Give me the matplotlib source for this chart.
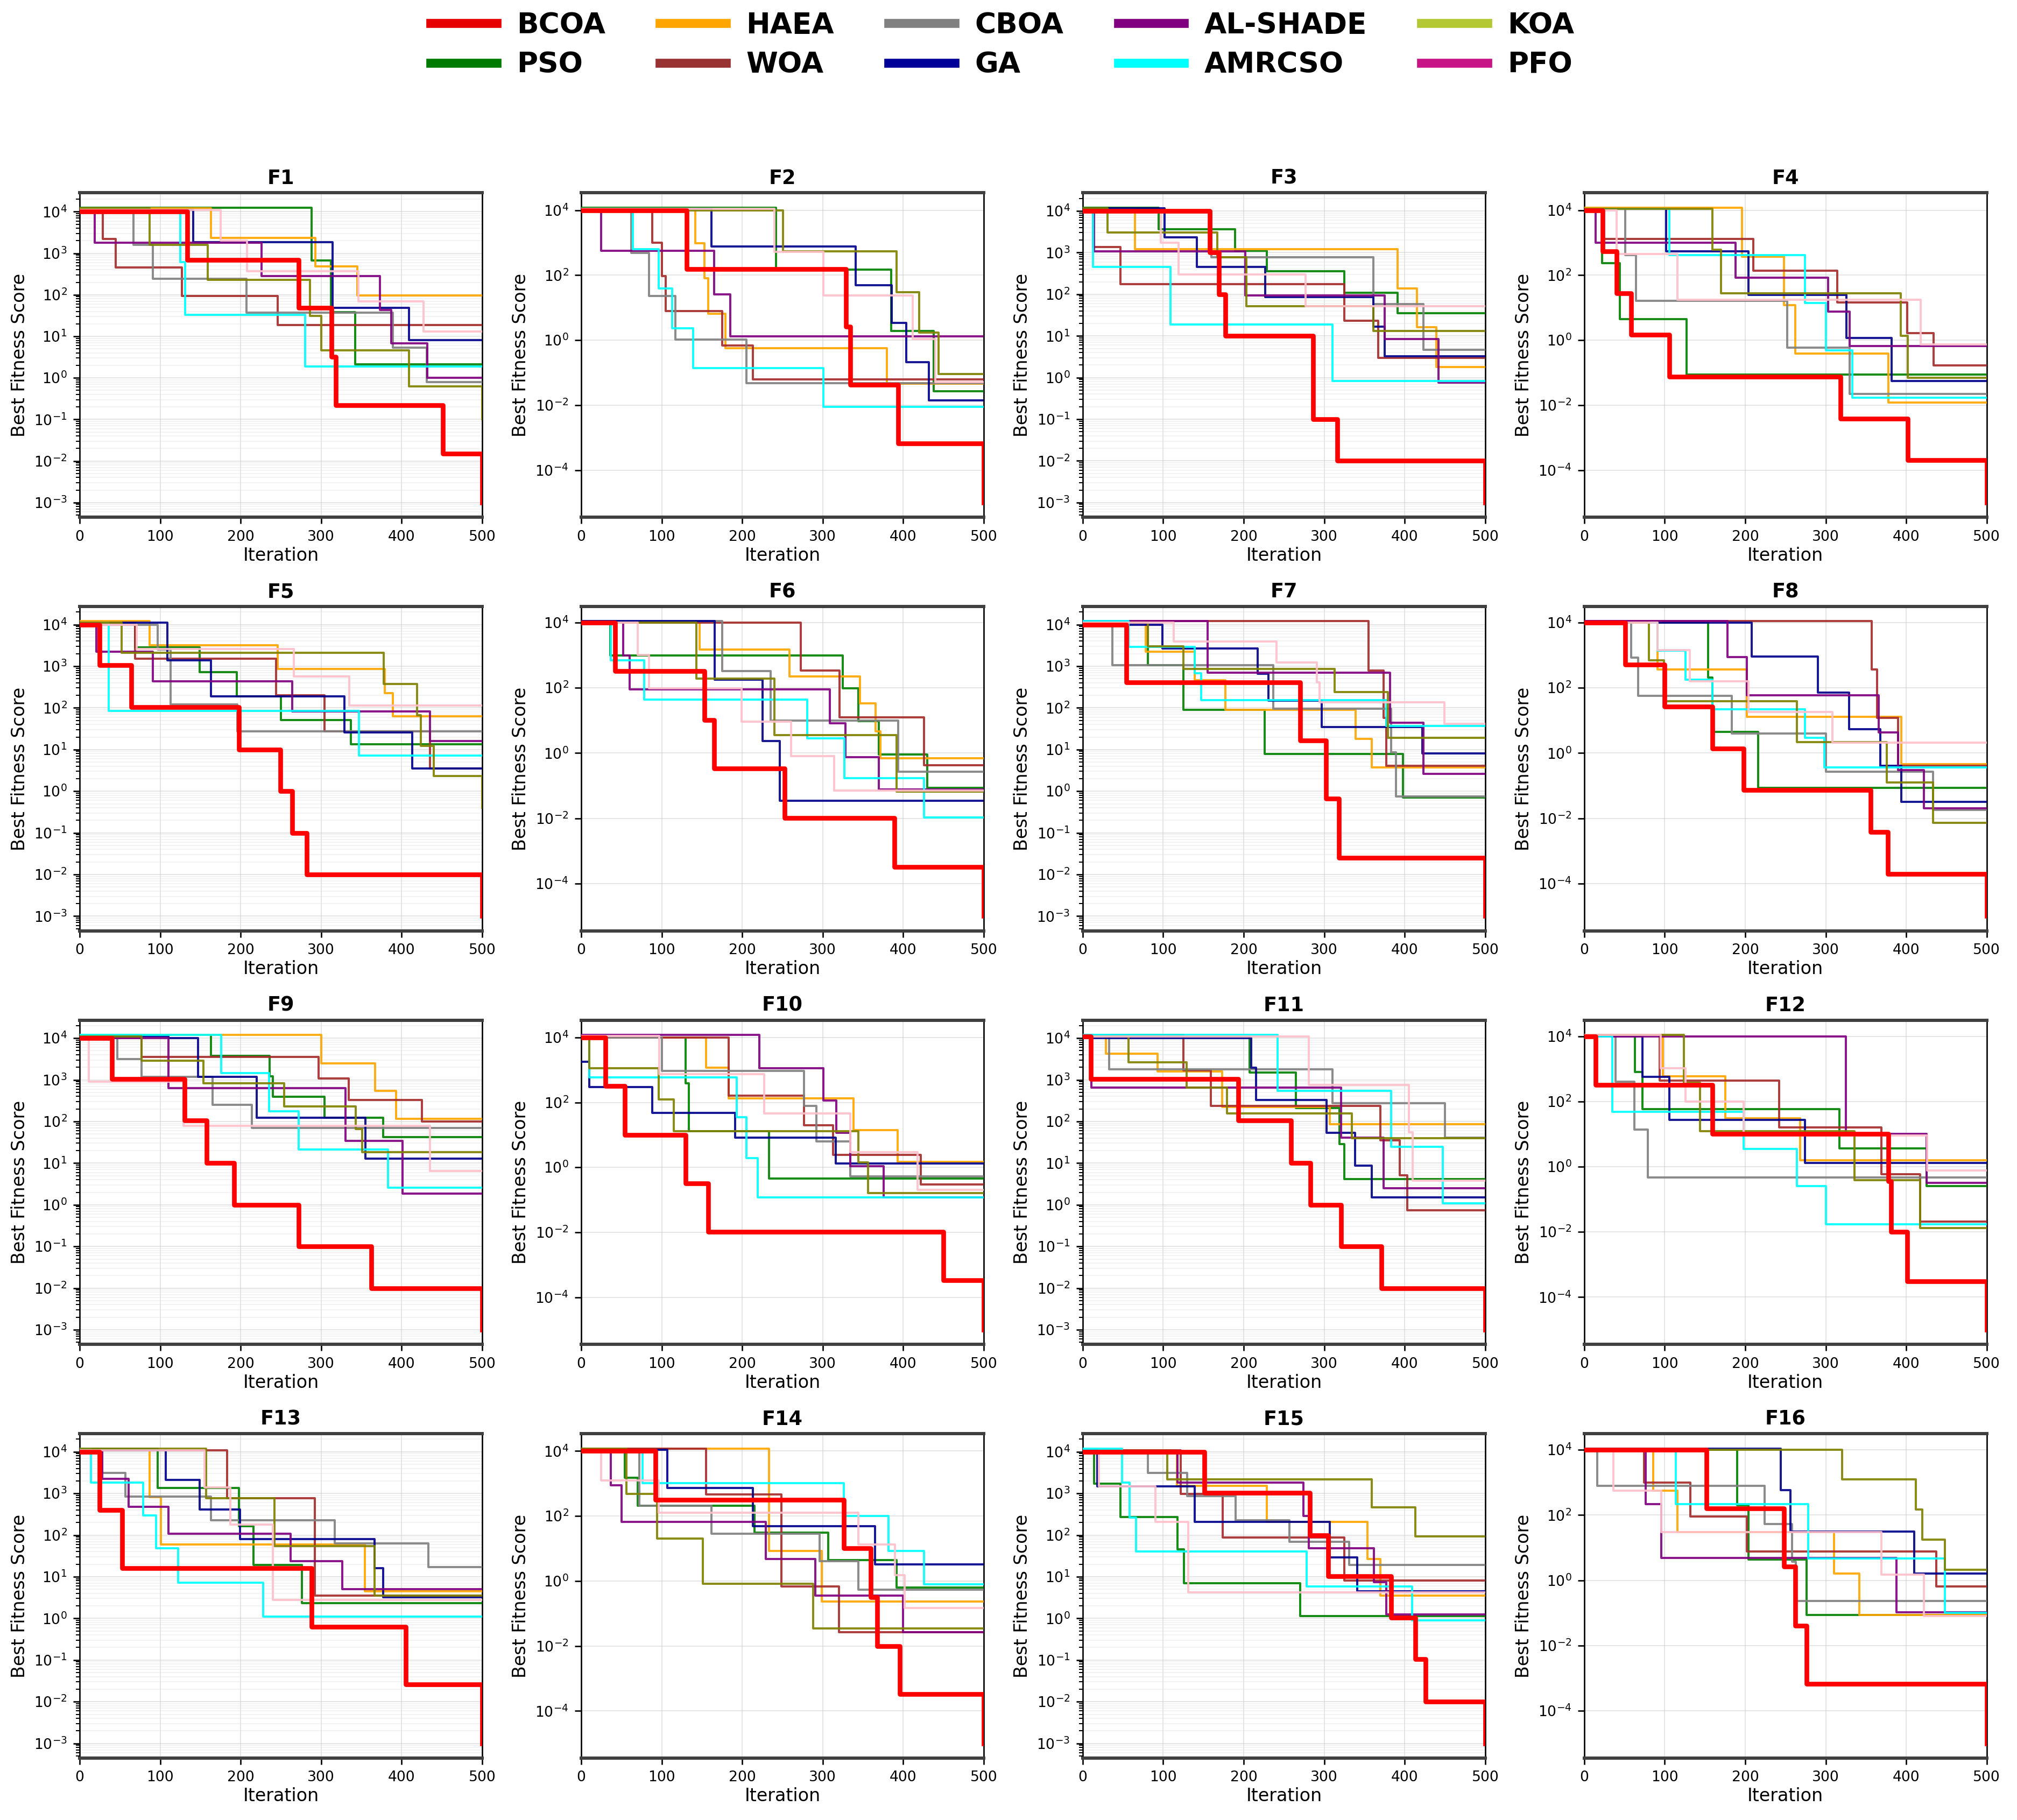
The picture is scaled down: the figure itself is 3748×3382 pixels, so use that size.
import numpy as np
import matplotlib.pyplot as plt
from matplotlib.lines import Line2D

algorithms = ["BCOA", "PSO", "HAEA", "WOA", "CBOA", "GA", "AL-SHADE", "AMRCSO", "KOA", "PFO"]
line_colors = ["red", "green", "orange", "brown", "gray", "darkblue", "purple", "cyan", "olive", "pink"]
legend_colors = ["#e60000", "#007a00", "#ffa500", "#993333", "#808080", "#000099", "#800080", "#00ffff", "#b3c832", "#c71585"]
functions = ["F%d" % i for i in range(1, 17)]
max_iter = 500

# convergence curves: (iteration where the step starts, best fitness from there on)
F1 = {
    "BCOA": [(0, 1e4), (134, 700), (272, 48), (313, 3.2), (318, 0.22), (451, 0.015), (500, 1e-3)],
    "PSO": [(0, 1.25e4), (288, 680), (312, 38), (342, 2.1)],
    "HAEA": [(0, 1.2e4), (163, 2350), (293, 480), (345, 96)],
    "WOA": [(0, 1e4), (29, 2200), (45, 455), (127, 93), (246, 18.7)],
    "CBOA": [(0, 1e4), (67, 1600), (91, 245), (207, 37), (389, 5.4), (431, 0.8)],
    "GA": [(0, 1.1e4), (141, 1860), (314, 49), (409, 8.1)],
    "AL-SHADE": [(0, 1e4), (19, 1800), (226, 280), (373, 43), (387, 6.8), (432, 1.0)],
    "AMRCSO": [(0, 1e4), (125, 620), (131, 33), (280, 1.9)],
    "KOA": [(0, 1.2e4), (87, 1600), (159, 230), (286, 31), (300, 4.6), (409, 0.63), (500, 0.1)],
    "PFO": [(0, 1.1e4), (175, 2000), (208, 365), (346, 69), (427, 13)],
}
F2 = {
    "BCOA": [(0, 1e4), (131, 157), (329, 2.6), (334, 0.042), (394, 6.6e-4), (500, 1e-5)],
    "PSO": [(0, 1.2e4), (242, 150), (385, 1.95), (438, 0.027)],
    "HAEA": [(0, 1.1e4), (142, 980), (153, 82), (158, 6.5), (179, 0.57), (380, 0.046)],
    "WOA": [(0, 1e4), (88, 1000), (100, 93), (105, 7.9), (175, 0.69), (213, 0.063)],
    "CBOA": [(0, 1e4), (62, 480), (84, 23), (117, 1.05), (205, 0.048)],
    "GA": [(0, 1.1e4), (162, 760), (341, 49), (386, 3.4), (404, 0.21), (432, 0.014)],
    "AL-SHADE": [(0, 1e4), (25, 560), (165, 26), (185, 1.3)],
    "AMRCSO": [(0, 1e4), (64, 640), (96, 39), (113, 2.3), (139, 0.14), (301, 0.0089)],
    "KOA": [(0, 1e4), (251, 550), (392, 30), (420, 1.7), (444, 0.09)],
    "PFO": [(0, 1.1e4), (240, 530), (301, 24), (412, 1.1), (440, 0.052)],
}
F3 = {
    "BCOA": [(0, 1e4), (158, 1000), (169, 100), (177, 10), (286, 0.1), (316, 0.01), (500, 1e-3)],
    "PSO": [(0, 1.2e4), (94, 3600), (189, 1120), (229, 360), (325, 110), (391, 35)],
    "HAEA": [(0, 1.1e4), (65, 1200), (391, 140), (415, 16), (439, 1.8)],
    "WOA": [(0, 1e4), (13, 1350), (47, 175), (325, 23), (367, 3.0)],
    "CBOA": [(0, 1e4), (160, 780), (361, 59), (423, 4.6)],
    "GA": [(0, 1.15e4), (102, 2300), (142, 450), (227, 87), (361, 16.6), (375, 3.3)],
    "AL-SHADE": [(0, 1e4), (14, 1080), (202, 95), (375, 8.5), (442, 0.76)],
    "AMRCSO": [(0, 1e4), (13, 450), (109, 19), (310, 0.82)],
    "KOA": [(0, 1.15e4), (31, 3000), (167, 770), (203, 51), (361, 13)],
    "PFO": [(0, 1e4), (97, 1750), (119, 295), (277, 51)],
}
F4 = {
    "BCOA": [(0, 1e4), (23, 540), (40, 28), (58, 1.45), (106, 0.075), (318, 0.0038), (402, 2e-4), (500, 1e-5)],
    "PSO": [(0, 1e4), (22, 234), (44, 4.5), (127, 0.087)],
    "HAEA": [(0, 1.2e4), (196, 370), (248, 12), (262, 0.39), (378, 0.012)],
    "WOA": [(0, 1e4), (22, 1320), (210, 140), (314, 14.5), (401, 1.66), (434, 0.17)],
    "CBOA": [(0, 1.1e4), (51, 410), (64, 16), (252, 0.59), (330, 0.022)],
    "GA": [(0, 1.1e4), (102, 540), (204, 25), (326, 1.16), (382, 0.055)],
    "AL-SHADE": [(0, 1e4), (14, 1000), (188, 85), (303, 7.6), (330, 0.66)],
    "AMRCSO": [(0, 1.1e4), (106, 410), (274, 14), (300, 0.49), (333, 0.017)],
    "KOA": [(0, 1.1e4), (159, 600), (170, 28), (393, 1.38), (402, 0.07)],
    "PFO": [(0, 1e4), (40, 450), (116, 17.5), (418, 0.73)],
}
F5 = {
    "BCOA": [(0, 1e4), (25, 1050), (64, 105), (198, 10), (249, 1.0), (264, 0.1), (282, 0.01), (500, 1e-3)],
    "PSO": [(0, 1.1e4), (69, 2800), (149, 730), (195, 190), (250, 51), (337, 13.5)],
    "HAEA": [(0, 1.2e4), (87, 3200), (246, 850), (379, 225), (389, 62)],
    "WOA": [(0, 1e4), (69, 1500), (244, 200), (304, 27), (435, 3.5)],
    "CBOA": [(0, 1e4), (97, 2500), (113, 120), (196, 27)],
    "GA": [(0, 1.1e4), (109, 1400), (163, 190), (329, 26), (413, 3.5)],
    "AL-SHADE": [(0, 1e4), (21, 2250), (91, 430), (264, 83), (435, 16)],
    "AMRCSO": [(0, 1.1e4), (36, 85), (347, 7.2)],
    "KOA": [(0, 1.1e4), (52, 2100), (378, 380), (419, 67), (424, 12.4), (440, 2.3), (500, 0.4)],
    "PFO": [(0, 1e4), (71, 2600), (266, 560), (335, 115)],
}
F6 = {
    "BCOA": [(0, 1e4), (42, 330), (153, 10.4), (165, 0.34), (253, 0.0102), (389, 3.2e-4), (500, 1e-5)],
    "PSO": [(0, 1e4), (36, 980), (325, 98), (344, 9.5), (370, 0.91), (430, 0.087)],
    "HAEA": [(0, 1e4), (147, 1480), (259, 220), (346, 33), (366, 4.7), (372, 0.69)],
    "WOA": [(0, 1e4), (273, 340), (321, 12.6), (426, 0.43)],
    "CBOA": [(0, 1.1e4), (175, 330), (235, 9.8), (394, 0.27)],
    "GA": [(0, 1.1e4), (166, 175), (225, 2.3), (247, 0.035)],
    "AL-SHADE": [(0, 1e4), (52, 980), (60, 89), (309, 8.3), (328, 0.76), (370, 0.076)],
    "AMRCSO": [(0, 1e4), (37, 700), (78, 44), (281, 2.8), (327, 0.17), (426, 0.0105)],
    "KOA": [(0, 1e4), (143, 190), (240, 3.5), (392, 0.066)],
    "PFO": [(0, 1e4), (70, 1030), (84, 98), (199, 9.1), (261, 0.8), (314, 0.072)],
}
F7 = {
    "BCOA": [(0, 1e4), (54, 410), (270, 16.6), (302, 0.66), (318, 0.025), (500, 1e-3)],
    "PSO": [(0, 1.1e4), (81, 1050), (125, 89), (226, 7.9), (398, 0.71)],
    "HAEA": [(0, 1.1e4), (78, 2240), (139, 460), (177, 91), (339, 18), (359, 3.7)],
    "WOA": [(0, 1.2e4), (355, 800), (374, 58), (377, 4.1)],
    "CBOA": [(0, 1e4), (37, 1070), (237, 95), (383, 8.5), (389, 0.74)],
    "GA": [(0, 1e4), (99, 2700), (217, 650), (231, 148), (297, 35), (422, 8.1)],
    "AL-SHADE": [(0, 1.2e4), (155, 710), (382, 44), (423, 2.6)],
    "AMRCSO": [(0, 1.2e4), (57, 2900), (139, 680), (147, 155), (377, 37)],
    "KOA": [(0, 1.1e4), (81, 3000), (125, 870), (313, 240), (379, 19)],
    "PFO": [(0, 1.1e4), (113, 3900), (241, 1250), (291, 410), (294, 138), (449, 42)],
}
F8 = {
    "BCOA": [(0, 1e4), (51, 520), (100, 27), (159, 1.4), (198, 0.074), (356, 0.0038), (377, 2e-4), (500, 1e-5)],
    "PSO": [(0, 1e4), (154, 210), (159, 4.5), (216, 0.087)],
    "HAEA": [(0, 1e4), (91, 360), (202, 13), (394, 0.45)],
    "WOA": [(0, 1.1e4), (357, 370), (364, 12), (390, 0.41)],
    "CBOA": [(0, 1e4), (58, 830), (67, 57), (183, 4.0), (300, 0.27), (433, 0.018)],
    "GA": [(0, 1e4), (208, 910), (290, 71), (329, 5.4), (368, 0.41), (394, 0.032)],
    "AL-SHADE": [(0, 1.1e4), (178, 870), (202, 59), (366, 4.3), (390, 0.3), (422, 0.02)],
    "AMRCSO": [(0, 1e4), (91, 1390), (126, 175), (159, 22), (274, 2.9), (298, 0.37)],
    "KOA": [(0, 1e4), (80, 690), (99, 39), (264, 2.2), (376, 0.125), (433, 0.0072)],
    "PFO": [(0, 1e4), (91, 1450), (131, 160), (204, 18.5), (308, 2.1)],
}
F9 = {
    "BCOA": [(0, 1e4), (40, 1050), (130, 105), (158, 10), (192, 1.0), (272, 0.1), (362, 0.01), (500, 1e-3)],
    "PSO": [(0, 1.2e4), (163, 3750), (236, 1200), (240, 390), (304, 123), (377, 42)],
    "HAEA": [(0, 1.2e4), (300, 2500), (367, 540), (393, 117)],
    "WOA": [(0, 1e4), (77, 3600), (297, 1080), (334, 325), (425, 100)],
    "CBOA": [(0, 1e4), (47, 3150), (77, 1170), (165, 250), (214, 69)],
    "GA": [(0, 1.1e4), (110, 1e4), (147, 1170), (220, 123), (355, 13)],
    "AL-SHADE": [(0, 1e4), (110, 630), (330, 34), (401, 1.86)],
    "AMRCSO": [(0, 1.2e4), (176, 1450), (235, 175), (272, 21), (383, 2.6)],
    "KOA": [(0, 1.1e4), (77, 2900), (154, 830), (254, 230), (343, 65), (351, 18.6)],
    "PFO": [(0, 1e4), (11, 890), (129, 78), (435, 6.5)],
}
F10 = {
    "BCOA": [(0, 1e4), (30, 315), (54, 9.8), (130, 0.32), (158, 0.0102), (450, 3.3e-4), (500, 1e-5)],
    "PSO": [(0, 1e4), (130, 390), (134, 13), (233, 0.45)],
    "HAEA": [(0, 1e4), (155, 1180), (183, 135), (338, 14), (393, 1.5)],
    "WOA": [(0, 1e4), (183, 160), (277, 20), (313, 2.4), (422, 0.3)],
    "CBOA": [(0, 1e4), (100, 930), (277, 77), (292, 6.2), (334, 0.52)],
    "GA": [(0, 1800), (10, 300), (88, 47), (191, 8.1), (316, 1.3)],
    "AL-SHADE": [(0, 1.2e4), (221, 1120), (301, 115), (317, 11.5), (334, 1.1), (376, 0.12)],
    "AMRCSO": [(0, 1e4), (10, 600), (193, 35), (205, 1.9), (219, 0.12)],
    "KOA": [(0, 1e4), (10, 1120), (96, 123), (115, 13), (344, 1.4), (356, 0.16)],
    "PFO": [(0, 1.1e4), (97, 730), (227, 45), (334, 2.9), (418, 0.2)],
}
F11 = {
    "BCOA": [(0, 1.1e4), (10, 1050), (193, 105), (259, 10), (283, 1.0), (321, 0.1), (371, 0.01), (500, 1e-3)],
    "PSO": [(0, 1.1e4), (207, 1500), (265, 210), (319, 29), (325, 4.1)],
    "HAEA": [(0, 1.1e4), (29, 4200), (93, 1580), (173, 220), (307, 85)],
    "WOA": [(0, 1.2e4), (125, 1670), (159, 240), (370, 35), (394, 5.1), (403, 0.74)],
    "CBOA": [(0, 1.2e4), (33, 1800), (310, 275), (450, 41)],
    "GA": [(0, 1e4), (209, 1950), (215, 325), (303, 53), (338, 8.7), (359, 1.5)],
    "AL-SHADE": [(0, 1e4), (11, 650), (321, 41), (374, 2.5)],
    "AMRCSO": [(0, 1.2e4), (242, 540), (383, 24.5), (447, 1.1)],
    "KOA": [(0, 1.1e4), (57, 2600), (129, 660), (179, 158), (334, 40)],
    "PFO": [(0, 1.1e4), (281, 750), (405, 55), (410, 3.8)],
}
F12 = {
    "BCOA": [(0, 1e4), (14, 320), (159, 10), (378, 0.36), (381, 0.01), (401, 3.1e-4), (500, 1e-5)],
    "PSO": [(0, 1.1e4), (63, 790), (72, 58), (317, 3.7), (425, 0.25)],
    "HAEA": [(0, 1.1e4), (98, 600), (175, 31), (268, 1.6)],
    "WOA": [(0, 1.1e4), (94, 430), (242, 16), (369, 0.59), (417, 0.021)],
    "CBOA": [(0, 1e4), (39, 400), (62, 13.8), (79, 0.47)],
    "GA": [(0, 1e4), (72, 575), (106, 27), (274, 1.3)],
    "AL-SHADE": [(0, 1e4), (325, 10), (425, 0.32)],
    "AMRCSO": [(0, 1e4), (35, 49), (198, 3.5), (264, 0.25), (300, 0.017)],
    "KOA": [(0, 1.1e4), (124, 370), (144, 12.3), (336, 0.39), (417, 0.013)],
    "PFO": [(0, 1.1e4), (95, 1050), (126, 100), (198, 9.1), (426, 0.76)],
}
F13 = {
    "BCOA": [(0, 1e4), (25, 400), (53, 16.3), (288, 0.62), (405, 0.026), (500, 1e-3)],
    "PSO": [(0, 1.2e4), (97, 1370), (198, 163), (216, 19), (276, 2.3)],
    "HAEA": [(0, 1.1e4), (87, 810), (101, 60), (354, 4.5)],
    "WOA": [(0, 1.1e4), (183, 780), (292, 3.5)],
    "CBOA": [(0, 1.1e4), (28, 3100), (57, 840), (163, 225), (317, 64), (433, 17)],
    "GA": [(0, 1.1e4), (107, 2100), (149, 415), (199, 81), (366, 16), (377, 3.2)],
    "AL-SHADE": [(0, 1.1e4), (28, 2250), (61, 480), (110, 107), (262, 23.5), (326, 5)],
    "AMRCSO": [(0, 1.2e4), (14, 1800), (79, 295), (95, 48), (122, 7.2), (228, 1.12)],
    "KOA": [(0, 1.2e4), (157, 780), (242, 54), (366, 3.5)],
    "PFO": [(0, 1.1e4), (155, 1400), (187, 178), (240, 2.8)],
}
F14 = {
    "BCOA": [(0, 1e4), (92, 316), (326, 10.2), (360, 0.32), (368, 0.01), (396, 3.3e-4), (500, 1e-5)],
    "PSO": [(0, 1e4), (54, 1500), (70, 210), (215, 31), (307, 4.4), (392, 0.63)],
    "HAEA": [(0, 1.2e4), (233, 8.5), (299, 0.23)],
    "WOA": [(0, 1.2e4), (155, 460), (249, 0.69), (320, 0.027)],
    "CBOA": [(0, 1.1e4), (72, 210), (162, 29), (296, 4.0), (344, 0.54)],
    "GA": [(0, 1.1e4), (107, 720), (213, 49), (365, 3.2)],
    "AL-SHADE": [(0, 1e4), (37, 890), (50, 65), (229, 4.7), (291, 0.36), (400, 0.026)],
    "AMRCSO": [(0, 1e4), (76, 1020), (326, 100), (382, 8.5), (426, 0.8)],
    "KOA": [(0, 1.2e4), (56, 480), (94, 20), (151, 0.81), (288, 0.034)],
    "PFO": [(0, 1e4), (25, 1230), (96, 125), (344, 13.5), (390, 1.5), (402, 0.15)],
}
F15 = {
    "BCOA": [(0, 1e4), (151, 1020), (282, 100), (305, 10.3), (383, 1.05), (413, 0.105), (426, 0.01), (500, 1e-3)],
    "PSO": [(0, 1e4), (14, 1700), (47, 275), (118, 45), (126, 7.0), (270, 1.15)],
    "HAEA": [(0, 1.1e4), (117, 1520), (229, 205), (354, 27), (370, 3.5)],
    "WOA": [(0, 1.1e4), (122, 970), (174, 87), (325, 8.1)],
    "CBOA": [(0, 1e4), (81, 3100), (130, 870), (190, 225), (257, 69), (331, 19)],
    "GA": [(0, 1.1e4), (18, 1470), (139, 210), (307, 29.5), (341, 4.5)],
    "AL-SHADE": [(0, 1e4), (118, 1830), (274, 290), (281, 48), (362, 7.4), (377, 1.25)],
    "AMRCSO": [(0, 1.2e4), (49, 1800), (58, 260), (66, 40), (278, 5.9), (409, 0.9)],
    "KOA": [(0, 1e4), (105, 2200), (359, 460), (413, 93)],
    "PFO": [(0, 1e4), (20, 1500), (90, 205), (131, 4.2)],
}
F16 = {
    "BCOA": [(0, 1e4), (152, 158), (248, 2.6), (262, 0.04), (276, 6.7e-4), (500, 1e-5)],
    "PSO": [(0, 1e4), (190, 200), (204, 4.3), (276, 0.087)],
    "HAEA": [(0, 1e4), (86, 550), (116, 30), (310, 1.6), (342, 0.087)],
    "WOA": [(0, 1.1e4), (74, 980), (132, 91), (202, 7.6), (437, 0.65)],
    "CBOA": [(0, 1e4), (16, 790), (224, 53), (258, 3.7), (263, 0.23)],
    "GA": [(0, 1.1e4), (244, 575), (256, 31.5), (410, 1.6)],
    "AL-SHADE": [(0, 1e4), (76, 220), (96, 4.8), (388, 0.105)],
    "AMRCSO": [(0, 1e4), (114, 220), (278, 4.7), (448, 0.1)],
    "KOA": [(0, 1e4), (320, 1230), (412, 148), (420, 17.8), (448, 2.1)],
    "PFO": [(0, 1e4), (36, 550), (96, 30), (369, 1.5), (422, 0.08)],
}
curves = [F1, F2, F3, F4, F5, F6, F7, F8, F9, F10, F11, F12, F13, F14, F15, F16]


def draw_panel(ax, name, data):
    for algo, color in zip(algorithms, line_colors):
        pts = data[algo]
        xs = [p[0] for p in pts]
        ys = [p[1] for p in pts]
        if xs[-1] < max_iter:
            xs.append(max_iter)
            ys.append(ys[-1])
        if algo == "BCOA":
            ax.step(xs, ys, where="post", color=color, lw=2.6, zorder=5)
        else:
            ax.step(xs, ys, where="post", color=color, lw=1.2, alpha=0.9, zorder=3)
    ax.set_yscale("log")
    ax.set_xlim(0, max_iter)
    ax.set_xticks([0, 100, 200, 300, 400, 500])
    ax.set_title(name, fontsize=11, fontweight="bold", pad=5)
    ax.set_xlabel("Iteration", fontsize=10, labelpad=1.5)
    ax.set_ylabel("Best Fitness Score", fontsize=10, labelpad=3)
    ax.tick_params(labelsize=8)
    ax.grid(True, which="major", color="#cccccc", alpha=0.5, lw=0.6)
    ax.grid(True, which="minor", axis="y", color="#dddddd", alpha=0.4, lw=0.5)
    for side in ["top", "bottom"]:
        ax.spines[side].set_linewidth(1.8)
        ax.spines[side].set_color("#404040")
    for side in ["left", "right"]:
        ax.spines[side].set_linewidth(0.8)


fig, axes = plt.subplots(4, 4, figsize=(3748 / 240, 3382 / 240), dpi=240)
fig.subplots_adjust(left=0.0395, right=0.985, top=0.894, bottom=0.034, wspace=0.246, hspace=0.275)

for ax, name, data in zip(axes.flat, functions, curves):
    draw_panel(ax, name, data)

handles = [Line2D([0], [0], color=c, lw=5) for c in legend_colors]
fig.legend(handles, algorithms, loc="upper center", bbox_to_anchor=(0.497, 1.008), ncol=5,
           frameon=False, prop={"size": 16, "weight": "bold"}, handlelength=2.3,
           handletextpad=0.7, columnspacing=1.9, labelspacing=0.4)

fig.savefig("out.png", dpi=240)
